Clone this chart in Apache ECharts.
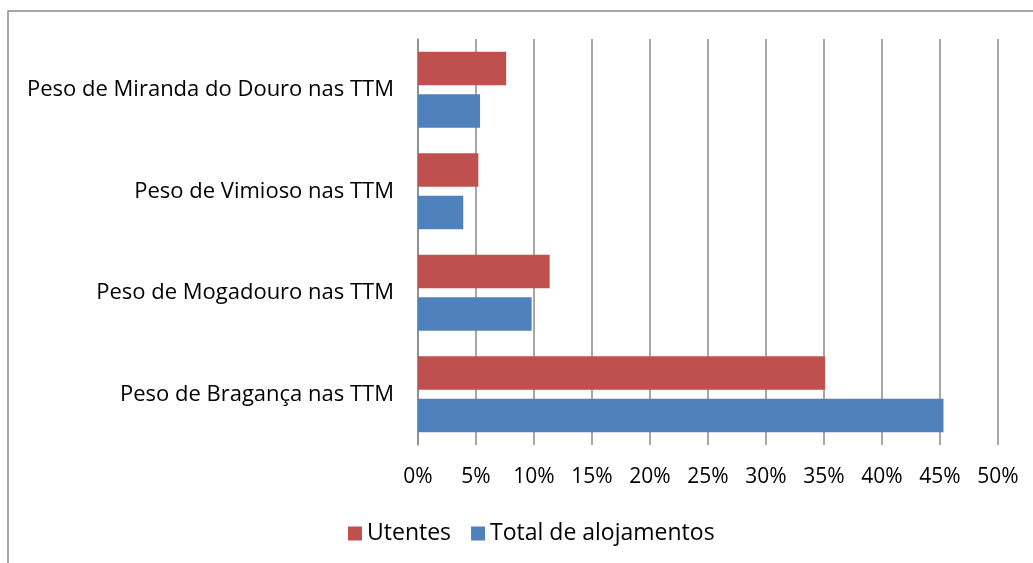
<!DOCTYPE html>
<html>
<head>
<meta charset="utf-8">
<script src="https://cdn.jsdelivr.net/npm/echarts@6/dist/echarts.min.js"></script>
<style>
  html, body { margin: 0; padding: 0; background: #fff; }
  #chart { width: 1033px; height: 563px; }
</style>
</head>
<body>
<div id="chart"></div>
<script>
// Categories listed from the bottom of the axis to the top
const categories = [
  'Peso de Bragança nas TTM',
  'Peso de Mogadouro nas TTM',
  'Peso de Vimioso nas TTM',
  'Peso de Miranda do Douro nas TTM'
];
const seriesNames = ['Utentes', 'Total de alojamentos'];
// Shares in percent
const utentes = [35.1, 11.35, 5.2, 7.6];
const totalAlojamentos = [45.3, 9.8, 3.9, 5.35];
const tickMax = 50;
const tickStep = 5;

const FONT = 'Open Sans';
const chart = echarts.init(document.getElementById('chart'), null, { renderer: 'canvas' });

chart.setOption({
  backgroundColor: '#fff',
  animation: false,
  textStyle: { fontFamily: FONT, color: '#000' },
  graphic: [{
    type: 'rect',
    shape: { x: 8, y: 11, width: 1200, height: 700 },
    style: { fill: 'none', stroke: '#8a8a8a', lineWidth: 1.5 },
    silent: true
  }],
  grid: { left: 418, right: 35, top: 39, bottom: 118, containLabel: false },
  legend: {
    data: seriesNames,
    left: 343,
    top: 517,
    itemWidth: 14,
    itemHeight: 14,
    itemGap: 20,
    icon: 'rect',
    textStyle: { fontFamily: FONT, fontSize: 23, color: '#000' }
  },
  xAxis: {
    type: 'value',
    min: 0,
    max: tickMax,
    interval: tickStep,
    axisLine: { show: false },
    axisTick: { show: false },
    splitLine: { show: true, lineStyle: { color: '#8a8a8a', width: 1.5 } },
    axisLabel: {
      formatter: '{value}%',
      fontFamily: FONT,
      fontSize: 21,
      color: '#000',
      margin: 22
    }
  },
  yAxis: {
    type: 'category',
    data: categories,
    axisLine: { show: true, lineStyle: { color: '#8a8a8a', width: 1.5 } },
    axisTick: { show: false },
    axisLabel: {
      fontFamily: FONT,
      fontSize: 22,
      color: '#000',
      margin: 24
    }
  },
  series: [
    {
      name: 'Utentes',
      type: 'bar',
      data: utentes,
      itemStyle: { color: '#C0504D' },
      barGap: '27%',
      barCategoryGap: '25%'
    },
    {
      name: 'Total de alojamentos',
      type: 'bar',
      data: totalAlojamentos,
      itemStyle: { color: '#4F81BD' },
      barGap: '27%',
      barCategoryGap: '25%'
    }
  ]
});
</script>
</body>
</html>
